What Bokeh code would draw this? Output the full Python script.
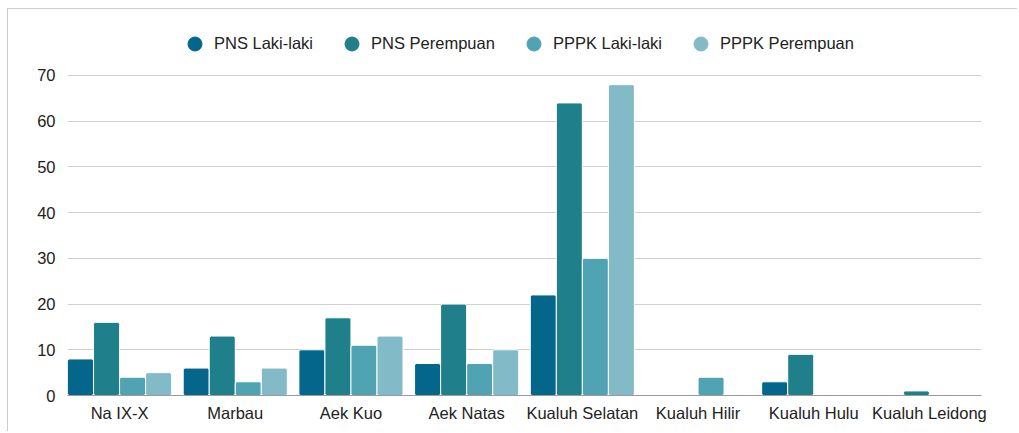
from bokeh.plotting import figure
from bokeh.models import Range1d, FixedTicker, Legend, LegendItem, ColumnDataSource
from bokeh.embed import file_html
from bokeh.resources import INLINE

categories = ["Na IX-X", "Marbau", "Aek Kuo", "Aek Natas", "Kualuh Selatan",
              "Kualuh Hilir", "Kualuh Hulu", "Kualuh Leidong"]
pns_laki = [8, 6, 10, 7, 22, 0, 3, 0]
pns_perempuan = [16, 13, 17, 20, 64, 0, 9, 1]
pppk_laki = [4, 3, 11, 7, 30, 4, 0, 0]
pppk_perempuan = [5, 6, 13, 10, 68, 0, 0, 0]

series_names = ["PNS Laki-laki", "PNS Perempuan", "PPPK Laki-laki", "PPPK Perempuan"]
series_values = [pns_laki, pns_perempuan, pppk_laki, pppk_perempuan]
colors = ["#03668a", "#1f7f8a", "#4fa3b2", "#83bac8"]
y_ticks = [0, 10, 20, 30, 40, 50, 60, 70]

FONT = "Liberation Sans"

# frame spans 0..82 so the legend can sit inside it above the 70 gridline
p = figure(width=1010, height=423, output_backend="svg", toolbar_location=None,
           x_range=Range1d(-0.45, len(categories) - 0.55), y_range=Range1d(0, 82.03))
p.margin = (8, 0, 0, 7)
p.min_border_left = 59
p.min_border_right = 37
p.min_border_bottom = 37
p.min_border_top = 11
p.outline_line_color = None
p.background_fill_color = "white"
p.border_fill_color = "white"
p.styles = {"border-top": "1px solid #cccccc", "border-left": "1px solid #cccccc"}

bar_w = 0.225
offsets = [-0.3375, -0.1125, 0.1125, 0.3375]
x_idx = list(range(len(categories)))
legend_items = []
for name, vals, col, off in zip(series_names, series_values, colors, offsets):
    src = ColumnDataSource(dict(x=[i + off for i in x_idx], top=vals))
    p.vbar(x="x", top="top", width=bar_w, bottom=0, source=src,
           fill_color=col, line_color="white", line_width=1, border_radius=2)
    dummy = p.scatter(x=[-10], y=[-10], marker="circle", size=14, fill_color=col, line_color=col)
    legend_items.append(LegendItem(label=name, renderers=[dummy]))

legend = Legend(items=legend_items, orientation="horizontal", location=(110, 334))
legend.label_text_font = FONT
legend.label_text_font_size = "16.5px"
legend.label_text_color = "#222222"
legend.glyph_width = 35
legend.glyph_height = 35
legend.label_standoff = 2
legend.spacing = 21
legend.border_line_color = None
legend.background_fill_alpha = 0
legend.padding = 0
legend.margin = 0
p.add_layout(legend, "center")

p.xaxis.ticker = FixedTicker(ticks=x_idx)
p.xaxis.major_label_overrides = {i: c for i, c in enumerate(categories)}
p.yaxis.ticker = FixedTicker(ticks=y_ticks)
p.xgrid.grid_line_color = None
p.ygrid.grid_line_color = "#d0d0d0"
p.ygrid.grid_line_width = 1

for ax in (p.xaxis, p.yaxis):
    ax.major_tick_line_color = None
    ax.minor_tick_line_color = None
    ax.major_tick_out = 0
    ax.major_tick_in = 0
    ax.major_label_text_font = FONT
    ax.major_label_text_font_size = "16.5px"
    ax.major_label_text_color = "#222222"
p.yaxis.axis_line_color = None
p.xaxis.axis_line_color = "#9a9a9a"
p.yaxis.major_label_standoff = 12
p.xaxis.major_label_standoff = 8

open("out.html", "w").write(file_html(p, INLINE))
